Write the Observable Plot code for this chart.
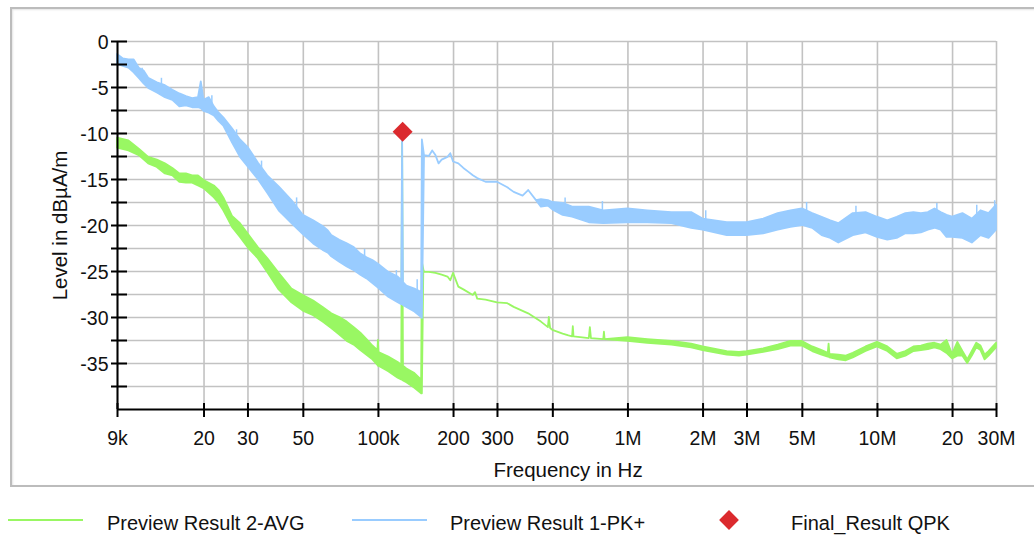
<!DOCTYPE html>
<html>
<head>
<meta charset="utf-8">
<script src="https://cdn.jsdelivr.net/npm/d3@7"></script>
<script src="https://cdn.jsdelivr.net/npm/@observablehq/plot@0.6"></script>
<style>
  html, body { margin: 0; padding: 0; background: #fff; }
  #wrap { position: relative; width: 1034px; height: 537px; overflow: hidden; font-family: "Liberation Sans", Arial, sans-serif; }
  #frame { position: absolute; left: 10px; top: 7px; width: 1060px; height: 476px; border: 2px solid #bcbcbc; box-shadow: inset 1px 1px 2px #e4e4e4; }
  #chart { position: absolute; left: 0; top: 0; }
  #legend { position: absolute; left: 0; top: 505px; width: 1034px; height: 32px; font-size: 20px; color: #111; }
  .swatch { position: absolute; top: 14px; width: 75px; height: 2px; }
  .diamond { position: absolute; top: 8px; width: 14px; height: 14px; transform: rotate(45deg); }
  .lbl { position: absolute; top: 8px; line-height: 20px; white-space: nowrap; }
</style>
</head>
<body>
<div id="wrap">
  <div id="frame"></div>
  <div id="chart"></div>
  <div id="legend"></div>
</div>
<script>
// ---------- axis ticks ----------
const freqTicks = [9e3, 2e4, 3e4, 5e4, 1e5, 2e5, 3e5, 5e5, 1e6, 2e6, 3e6, 5e6, 1e7, 2e7, 3e7];
const freqTickLabels = ["9k", "20", "30", "50", "100k", "200", "300", "500", "1M", "2M", "3M", "5M", "10M", "20", "30M"];
const levelTicks = [0, -2.5, -5, -7.5, -10, -12.5, -15, -17.5, -20, -22.5, -25, -27.5, -30, -32.5, -35, -37.5];
const levelTickLabels = ["0", "", "-5", "", "-10", "", "-15", "", "-20", "", "-25", "", "-30", "", "-35", ""];
const xTitle = "Frequency in Hz";
const yTitle = "Level in dBµA/m";

// ---------- Preview Result 1-PK+ (upper / lower edge of trace, dBµA/m) ----------
const pkFreq = [9000, 9500, 10000, 10500, 11000, 11500, 12000, 13000, 14000, 15000, 16000, 17000, 18000, 19000, 19500, 20000, 21000, 22000, 23000, 24000,
  26000, 28000, 30000, 33000, 36000, 40000, 45000, 50000, 55000, 60000, 63000, 65000, 70000, 75000, 80000, 85000, 90000, 95000, 100000,
  110000, 120000, 124000, 125000, 126000, 130000, 140000, 149000, 150000,
  153000, 160000, 165000, 170000, 175000, 180000, 190000, 195000, 200000, 210000, 220000, 230000, 240000, 250000, 270000, 300000,
  330000, 350000, 380000, 400000, 430000, 450000, 480000, 500000, 550000, 600000, 700000, 800000,
  1e6, 1.2e6, 1.5e6, 1.8e6, 2e6, 2.5e6, 3e6, 3.5e6, 4e6, 4.5e6, 5e6, 5.5e6, 6e6, 6.5e6, 7e6, 8e6, 9e6,
  10e6, 11e6, 12e6, 13e6, 14e6, 15e6, 16e6, 17e6, 18e6, 19e6, 20e6, 22e6, 24e6, 26e6, 28e6, 30e6];
const pkHi = [-1.4, -1.9, -2.0, -2.0, -2.9, -3.2, -4.0, -4.5, -4.8, -5.3, -5.7, -6.0, -6.2, -6.1, -4.4, -6.4, -6.1, -7.1, -7.8, -8.3,
  -9.5, -10.7, -11.5, -13.2, -14.6, -15.8, -17.3, -18.9, -19.5, -20.1, -20.6, -21.1, -21.6, -22.0, -22.4, -23.1, -23.5, -23.8, -24.2,
  -25.1, -25.6, -26.0, -10.6, -26.2, -26.6, -26.9, -27.3, -10.7,
  -12.4, -12.5, -11.9, -12.4, -13.3, -12.9, -12.6, -12.2, -13.1, -13.3, -13.8, -14.2, -14.6, -14.9, -15.3, -15.3,
  -15.9, -16.4, -16.8, -16.2, -17.3, -17.2, -17.3, -17.5, -17.6, -18.0, -18.0, -18.4,
  -18.2, -18.4, -18.6, -18.6, -19.3, -19.7, -19.7, -19.3, -18.7, -18.4, -18.2, -18.7, -19.1, -19.5, -19.8, -18.7, -18.6,
  -19.1, -19.5, -19.1, -18.7, -18.6, -18.7, -18.6, -18.2, -18.6, -18.9, -19.1, -18.7, -19.3, -18.4, -18.7, -17.8];
const pkLo = [-2.5, -2.7, -2.9, -3.4, -4.0, -4.6, -5.1, -5.6, -6.1, -6.4, -7.1, -7.0, -7.2, -7.2, -7.3, -7.6, -7.8, -8.1, -8.7, -9.2,
  -11.0, -12.6, -13.6, -15.0, -16.5, -18.4, -19.8, -21.0, -22.0, -22.7, -23.0, -23.4, -24.0, -24.5, -24.9, -25.4, -25.8, -26.3, -26.8,
  -27.8, -28.4, -28.6, -28.6, -28.7, -28.9, -29.4, -30.0, -30.1,
  null, null, null, null, null, null, null, null, null, null, null, null, null, null, null, null,
  null, null, null, null, null, -18.0, -17.9, -18.3, -18.9, -19.1, -19.7, -19.8,
  -19.7, -19.7, -19.8, -20.3, -20.5, -21.1, -21.1, -20.9, -20.5, -20.2, -20.0, -20.3, -21.1, -21.4, -21.9, -21.1, -20.8,
  -21.3, -21.6, -21.4, -20.9, -20.9, -20.8, -20.5, -20.3, -20.5, -21.3, -21.3, -21.4, -21.9, -21.1, -21.4, -20.5];
// single-sample noise spikes of the PK trace (frequency, peak, foot)
const pkSpikeFreq = [11300, 13500, 21500, 27000, 34000, 47000, 88000, 118000, 143000, 560000, 790000, 2.05e6, 5.2e6, 8.2e6, 17.3e6, 25e6, 29.5e6];
const pkSpikeTop = [-2.9, -4.0, -5.9, -9.6, -13.0, -17.0, -22.6, -24.9, -25.9, -17.0, -17.4, -18.4, -17.5, -17.9, -17.6, -17.8, -17.3];
const pkSpikeFoot = [-3.8, -5.0, -7.2, -10.8, -14.5, -18.5, -24.0, -26.0, -27.2, -18.0, -18.5, -19.5, -18.5, -19.0, -18.5, -18.8, -18.2];

// ---------- Preview Result 2-AVG (upper / lower edge of trace, dBµA/m) ----------
const avgFreq = [9000, 10000, 11000, 12000, 13000, 14000, 15000, 16000, 17000, 18000, 19000, 20000, 22000, 23000, 24000, 25000, 26000, 28000,
  30000, 33000, 36000, 40000, 45000, 50000, 55000, 60000, 65000, 70000, 75000, 80000, 85000, 90000, 95000, 99500, 100000, 100500,
  110000, 120000, 124000, 125000, 126000, 130000, 140000, 149000, 150000,
  152000, 153000, 160000, 170000, 180000, 190000, 195000, 200000, 210000, 220000, 240000, 245000, 250000, 270000, 300000, 330000, 350000,
  400000, 450000, 480000, 484000, 490000, 500000, 550000, 580000, 600000, 604000, 608000, 700000, 707000, 714000, 800000, 805000, 810000,
  1e6, 1.2e6, 1.5e6, 1.8e6, 2e6, 2.5e6, 2.8e6, 3e6, 3.5e6, 4e6, 4.5e6, 5e6, 5.5e6, 6e6, 6.35e6, 6.4e6, 6.45e6, 7e6, 7.5e6, 8e6, 9e6,
  10e6, 11e6, 12e6, 13e6, 14e6, 15e6, 16e6, 17e6, 18e6, 19e6, 20e6, 21e6, 22e6, 23e6, 24e6, 25e6, 26e6, 27e6, 28e6, 30e6];
const avgHi = [-10.5, -10.8, -11.7, -12.6, -12.9, -13.3, -13.8, -14.4, -14.4, -14.6, -14.6, -15.1, -15.7, -16.2, -17.0, -18.0, -19.0, -19.8,
  -20.9, -22.4, -23.6, -25.2, -26.9, -27.6, -28.2, -28.9, -29.6, -30.0, -30.5, -31.1, -31.7, -32.4, -33.1, -33.6, -32.5, -33.8,
  -34.3, -34.9, -35.2, -11.0, -35.3, -35.6, -36.1, -36.8, -24.0,
  -24.8, -25.1, -25.1, -25.2, -25.4, -25.6, -26.0, -25.2, -26.7, -27.0, -27.6, -27.3, -28.0, -28.1, -28.4, -28.5, -28.9,
  -29.6, -30.5, -31.1, -30.0, -31.2, -31.4, -31.8, -32.0, -32.1, -31.0, -32.1, -32.3, -31.1, -32.3, -32.4, -31.6, -32.4,
  -32.2, -32.4, -32.6, -32.9, -33.2, -33.7, -33.8, -33.7, -33.4, -33.0, -32.6, -32.6, -33.2, -33.6, -33.9, -32.9, -34.0, -34.1, -34.2, -33.9, -33.2,
  -32.7, -33.2, -34.0, -33.7, -33.2, -33.1, -32.9, -32.8, -33.0, -32.5, -34.0, -32.7, -33.7, -34.6, -33.7, -32.8, -33.1, -34.1, -33.7, -32.8];
const avgLo = [-11.6, -11.9, -12.4, -13.3, -13.7, -14.4, -14.6, -15.3, -15.4, -15.4, -15.7, -16.0, -17.0, -17.6, -18.4, -19.3, -20.2, -21.3,
  -22.4, -23.6, -25.1, -27.0, -28.4, -29.3, -29.8, -30.5, -31.2, -31.9, -32.6, -33.0, -33.6, -34.1, -34.6, -35.2, -35.3, -35.3,
  -35.9, -36.6, -36.8, -36.8, -36.9, -37.1, -37.7, -38.3, -38.3,
  null, null, null, null, null, null, null, null, null, null, null, null, null, null, null, null, null,
  null, null, null, null, null, null, null, null, null, null, null, null, null, null, null, null, null,
  -32.6, -32.8, -33.0, -33.3, -33.6, -34.1, -34.2, -34.1, -33.8, -33.5, -33.1, -33.1, -33.7, -34.1, -34.3, -34.3, -34.4, -34.6, -34.7, -34.4, -33.7,
  -33.2, -33.7, -34.5, -34.2, -33.7, -33.6, -33.5, -33.3, -33.5, -33.9, -34.5, -34.2, -34.2, -35.0, -34.2, -33.3, -33.6, -34.6, -34.2, -33.3];

// ---------- Final_Result QPK ----------
const qpkFreq = [125000];
const qpkLevel = [-9.8];

// ---------- legend ----------
const legendLabels = ["Preview Result 2-AVG", "Preview Result 1-PK+", "Final_Result QPK"];
const legendSymbols = ["line", "line", "diamond"];
const legendColors = ["#99f763", "#99ccff", "#db2a2e"];

const colAvg = legendColors[0], colPk = legendColors[1], colQpk = legendColors[2];

const pk = pkFreq.map((f, i) => ({f, hi: pkHi[i], lo: pkLo[i] ?? pkHi[i]}));
const pkSpikes = pkSpikeFreq.map((f, i) => ({f, top: pkSpikeTop[i], foot: pkSpikeFoot[i]}));
const avg = avgFreq.map((f, i) => ({f, hi: avgHi[i], lo: avgLo[i] ?? avgHi[i]}));
const qpk = qpkFreq.map((f, i) => ({f, v: qpkLevel[i]}));
const xTickRows = freqTicks.map((t, i) => ({t, label: freqTickLabels[i]}));
const yTickRows = levelTicks.map((t, i) => ({t, label: levelTickLabels[i]}));

const gridStyle = {stroke: "#c2c2c2", strokeOpacity: 1, strokeWidth: 1.6};
const font = "'Liberation Sans', Arial, sans-serif";

const chart = Plot.plot({
  width: 1034,
  height: 490,
  marginLeft: 117,
  marginRight: 38,
  marginTop: 41,
  marginBottom: 81,
  style: {fontFamily: font, fontSize: "19.5px", color: "#111", background: "transparent"},
  x: {type: "log", domain: [9e3, 3e7], axis: null},
  y: {domain: [-40, 0], axis: null},
  marks: [
    Plot.gridX(freqTicks, gridStyle),
    Plot.gridY(levelTicks, gridStyle),
    Plot.areaY(avg, {x: "f", y1: "lo", y2: "hi", fill: colAvg, stroke: colAvg, strokeWidth: 1.8, strokeLinejoin: "round"}),
    Plot.areaY(pk, {x: "f", y1: "lo", y2: "hi", fill: colPk, stroke: colPk, strokeWidth: 1.8, strokeLinejoin: "round"}),
    Plot.ruleX(pkSpikes, {x: "f", y1: "foot", y2: "top", stroke: colPk, strokeWidth: 1.5}),
    Plot.ruleX([9e3], {stroke: "#000", strokeWidth: 2}),
    Plot.ruleY([-40], {stroke: "#000", strokeWidth: 2}),
    // tick marks crossing the axes
    Plot.axisX(freqTicks, {tickSize: 14, dy: -6, tickFormat: () => "", strokeWidth: 2, stroke: "#000", label: null}),
    Plot.axisY(levelTicks, {tickSize: 16, dx: 10, tickFormat: () => "", strokeWidth: 2, stroke: "#000", label: null}),
    // tick labels
    Plot.text(xTickRows, {x: "t", text: "label", frameAnchor: "bottom", lineAnchor: "top", textAnchor: "middle", dy: 22, fill: "#111", fontSize: 19.5}),
    Plot.text(yTickRows, {y: "t", text: "label", frameAnchor: "left", lineAnchor: "middle", textAnchor: "end", dx: -9, dy: 1, fill: "#111", fontSize: 19.5}),
    Plot.dot(qpk, {x: "f", y: "v", symbol: "diamond2", r: 9, fill: colQpk, stroke: null}),
    Plot.text([xTitle], {frameAnchor: "bottom", lineAnchor: "top", textAnchor: "middle", dy: 53, dx: 11, fontSize: 20.5, fill: "#111"}),
    Plot.text([yTitle], {frameAnchor: "left", rotate: -90, lineAnchor: "top", textAnchor: "middle", dx: -65, fontSize: 20.5, fill: "#111"})
  ]
});
document.getElementById("chart").appendChild(chart);

// legend (HTML, below the SVG)
const legendX = [[8, 107], [352, 450], [722, 791]];
const lg = document.getElementById("legend");
legendLabels.forEach((name, i) => {
  const sym = document.createElement("div");
  sym.className = legendSymbols[i] === "line" ? "swatch" : "diamond";
  sym.style.left = legendX[i][0] + "px";
  sym.style.background = legendColors[i];
  lg.appendChild(sym);
  const t = document.createElement("div");
  t.className = "lbl";
  t.style.left = legendX[i][1] + "px";
  t.textContent = name;
  lg.appendChild(t);
});
</script>
</body>
</html>
